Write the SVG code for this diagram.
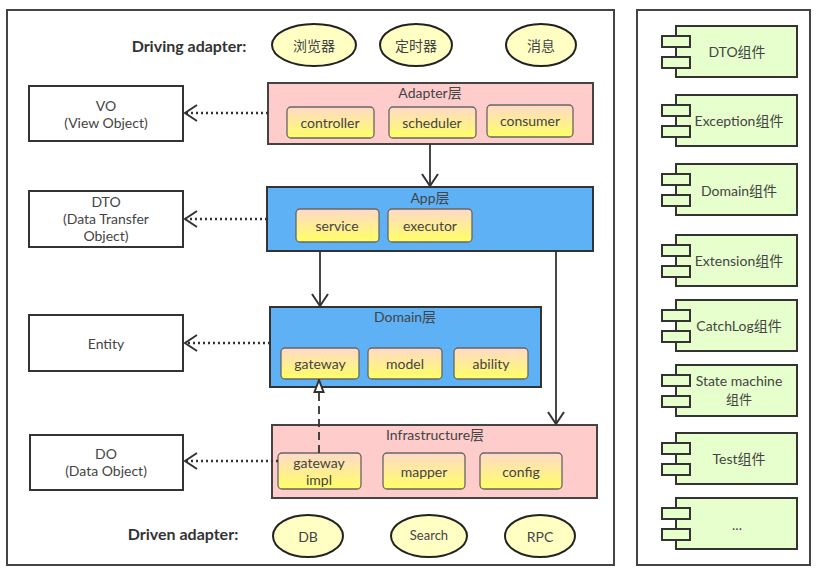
<svg xmlns="http://www.w3.org/2000/svg" width="823" height="577" viewBox="0 0 823 577">
<defs>
<linearGradient id="yg" x1="0" y1="0" x2="0" y2="1">
<stop offset="0" stop-color="#FFD9C8"/>
<stop offset="1" stop-color="#FFFF66"/>
</linearGradient>
<marker id="openV" markerUnits="userSpaceOnUse" markerWidth="16" markerHeight="20" refX="13" refY="9" orient="auto">
<path d="M1 1 L13 9 L1 17" fill="none" stroke="#333" stroke-width="2"/>
</marker>
<marker id="tri" markerUnits="userSpaceOnUse" markerWidth="14" markerHeight="16" refX="13" refY="6" orient="auto">
<path d="M1 1.5 L13 6 L1 10.5 Z" fill="#fff" stroke="#333" stroke-width="2"/>
</marker>
<g id="compIcon">
<rect x="676" y="0" width="121" height="51" class="comp"/>
<rect x="662" y="10" width="28" height="11" class="comp"/>
<rect x="662" y="31" width="28" height="11" class="comp"/>
</g>
</defs>
<style>
text{font-family:Lato,"Noto Sans CJK SC",sans-serif;font-size:14px;fill:#444;text-anchor:middle;dominant-baseline:central}
.bold{font-weight:bold;fill:#333;font-size:16px}
.frame{fill:#fff;stroke:#444;stroke-width:2}
.box{fill:#fff;stroke:#333;stroke-width:2}
.pink{fill:#FFCCCC;stroke:#444;stroke-width:2}
.blue{fill:#5FB1F6;stroke:#333;stroke-width:2}
.item{fill:url(#yg);stroke:#666;stroke-width:1.3}
.ell{fill:#FFFFC4;stroke:#222;stroke-width:2}
.comp{fill:#E6FFCC;stroke:#333;stroke-width:2}
.solid{stroke:#333;stroke-width:1.8;fill:none}
.dot{stroke:#333;stroke-width:2.4;fill:none;stroke-dasharray:2 3}
.dash{stroke:#333;stroke-width:1.8;fill:none;stroke-dasharray:8 5}
</style>
<rect x="7" y="10" width="607" height="555" class="frame"/>
<rect x="637" y="10" width="173" height="555" class="frame"/>

<text x="189" y="45" class="bold">Driving adapter:</text>
<text x="183" y="533" class="bold">Driven adapter:</text>

<g id="browser"><ellipse cx="314" cy="45" rx="42" ry="21" class="ell"/><text x="314" y="45">浏览器</text></g>
<g id="timer"><ellipse cx="416" cy="45" rx="36" ry="21" class="ell"/><text x="416" y="45">定时器</text></g>
<g id="message"><ellipse cx="541" cy="45" rx="35" ry="21" class="ell"/><text x="541" y="45">消息</text></g>

<g id="db"><ellipse cx="308" cy="536" rx="35" ry="21" class="ell"/><text x="308" y="536">DB</text></g>
<g id="search"><ellipse cx="429" cy="536" rx="38" ry="21" class="ell"/><text x="429" y="535" style="font-size:13px">Search</text></g>
<g id="rpc"><ellipse cx="540" cy="536" rx="35" ry="21" class="ell"/><text x="540" y="536">RPC</text></g>

<g id="vo"><rect x="29" y="86" width="154" height="55" class="box"/><text x="106" y="105">VO</text><text x="106" y="122">(View Object)</text></g>
<g id="dto"><rect x="29" y="191" width="154" height="56" class="box"/><text x="106" y="201">DTO</text><text x="106" y="218">(Data Transfer</text><text x="106" y="235">Object)</text></g>
<g id="entity"><rect x="29" y="315" width="154" height="56" class="box"/><text x="106" y="343">Entity</text></g>
<g id="do"><rect x="30" y="435" width="153" height="55" class="box"/><text x="106" y="453">DO</text><text x="106" y="470">(Data Object)</text></g>

<g id="adapter">
<rect x="268" y="83" width="325" height="61" class="pink"/>
<text x="430" y="92">Adapter层</text>
<rect x="287" y="107" width="87" height="31" rx="4" class="item"/><text x="330" y="122">controller</text>
<rect x="389" y="107" width="87" height="31" rx="4" class="item"/><text x="432" y="122">scheduler</text>
<rect x="487" y="105" width="86" height="32" rx="4" class="item"/><text x="530" y="120">consumer</text>
</g>

<g id="app">
<rect x="267" y="187" width="326" height="64" class="blue"/>
<text x="430" y="197">App层</text>
<rect x="296" y="209" width="83" height="33" rx="4" class="item"/><text x="337" y="225">service</text>
<rect x="388" y="209" width="84" height="33" rx="4" class="item"/><text x="430" y="225">executor</text>
</g>

<g id="domain">
<rect x="270" y="307" width="271" height="80" class="blue"/>
<text x="405" y="316">Domain层</text>
<rect x="281" y="348" width="78" height="31" rx="4" class="item"/><text x="320" y="363">gateway</text>
<rect x="368" y="348" width="74" height="31" rx="4" class="item"/><text x="405" y="363">model</text>
<rect x="454" y="348" width="74" height="31" rx="4" class="item"/><text x="491" y="363">ability</text>
</g>

<g id="infrastructure">
<rect x="272" y="425" width="325" height="73" class="pink"/>
<text x="435" y="434">Infrastructure层</text>
<rect x="278" y="453" width="83" height="36" rx="4" class="item"/><text x="319" y="462">gateway</text><text x="319" y="479">impl</text>
<rect x="383" y="453" width="82" height="36" rx="4" class="item"/><text x="424" y="471">mapper</text>
<rect x="480" y="453" width="82" height="36" rx="4" class="item"/><text x="521" y="471">config</text>
</g>

<g id="connectors">
<line x1="430" y1="144" x2="430" y2="186" class="solid" marker-end="url(#openV)"/>
<line x1="320" y1="251" x2="320" y2="306" class="solid" marker-end="url(#openV)"/>
<line x1="556" y1="251" x2="556" y2="424" class="solid" marker-end="url(#openV)"/>
<line x1="319" y1="453" x2="319" y2="380" class="dash" marker-end="url(#tri)"/>
<line x1="268" y1="113" x2="185" y2="113" class="dot" marker-end="url(#openV)"/>
<line x1="267" y1="219" x2="185" y2="219" class="dot" marker-end="url(#openV)"/>
<line x1="270" y1="343" x2="185" y2="343" class="dot" marker-end="url(#openV)"/>
<line x1="278" y1="461" x2="185" y2="461" class="dot" marker-end="url(#openV)"/>
</g>

<g id="dto-component"><use href="#compIcon" y="26"/><text x="737" y="51">DTO组件</text></g>
<g id="exception-component"><use href="#compIcon" y="95"/><text x="739" y="120">Exception组件</text></g>
<g id="domain-component"><use href="#compIcon" y="164"/><text x="739" y="190">Domain组件</text></g>
<g id="extension-component"><use href="#compIcon" y="235"/><text x="739" y="260">Extension组件</text></g>
<g id="catchlog-component"><use href="#compIcon" y="300"/><text x="739" y="325">CatchLog组件</text></g>
<g id="statemachine-component"><use href="#compIcon" y="365"/><text x="739" y="380">State machine</text><text x="739" y="399" style="font-size:13px">组件</text></g>
<g id="test-component"><use href="#compIcon" y="433"/><text x="739" y="458">Test组件</text></g>
<g id="more-component"><use href="#compIcon" y="498"/><text x="737" y="524">...</text></g>
</svg>
